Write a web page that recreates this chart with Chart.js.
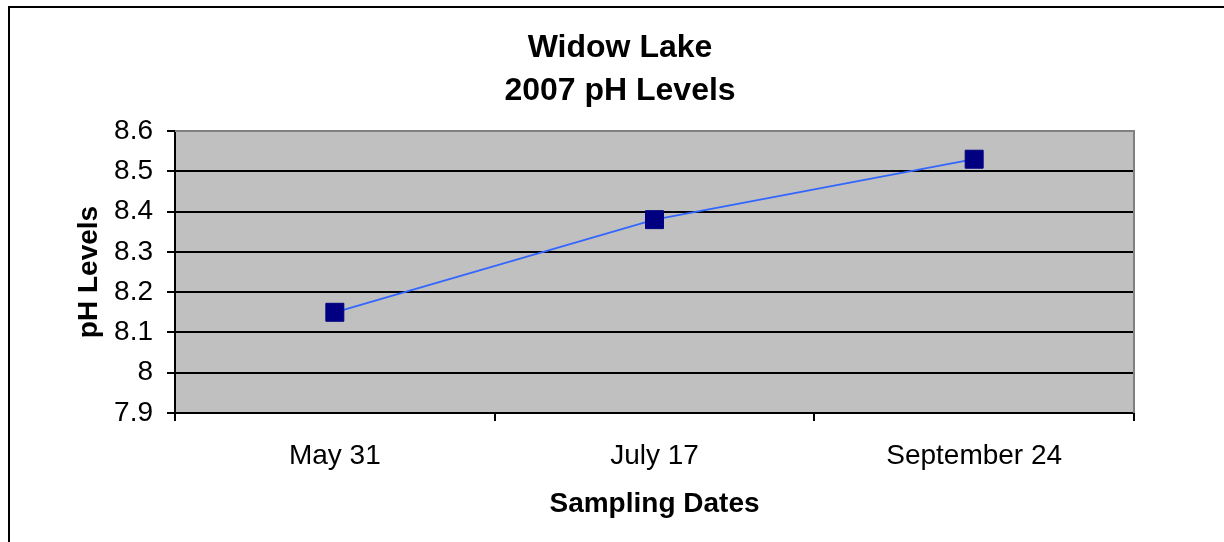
<!DOCTYPE html>
<html>
<head>
<meta charset="utf-8">
<script src="https://cdn.jsdelivr.net/npm/chart.js@4.4.1/dist/chart.umd.min.js"></script>
<style>
  html, body { margin: 0; padding: 0; background: #fff; }
  #wrap { width: 1224px; height: 542px; position: relative; }
</style>
</head>
<body>
<div id="wrap"><canvas id="ph-chart"></canvas></div>
<script>
const sampleDates = ['May 31', 'July 17', 'September 24'];
const phValues = [8.15, 8.38, 8.53];
const yMin = 7.9;
const yMax = 8.6;
const yStep = 0.1;

const FONT = "'Liberation Sans', Arial, sans-serif";

// grey plot area, grey top/right edge and the outer frame of the Excel chart
const plotBackground = {
    id: 'plotBackground',
    beforeDraw(chart) {
        const { ctx, chartArea: a } = chart;
        ctx.save();
        ctx.fillStyle = '#C0C0C0';
        ctx.fillRect(a.left, a.top, a.right - a.left, a.bottom - a.top);
        ctx.restore();
    },
    afterDatasetsDraw(chart) {
        const { ctx, chartArea: a } = chart;
        ctx.save();
        ctx.strokeStyle = '#808080';
        ctx.lineWidth = 2;
        ctx.beginPath();
        ctx.moveTo(a.left, a.top);
        ctx.lineTo(a.right, a.top);
        ctx.lineTo(a.right, a.bottom);
        ctx.stroke();
        ctx.restore();
    },
    afterDraw(chart) {
        const { ctx } = chart;
        ctx.save();
        ctx.strokeStyle = '#000';
        ctx.lineWidth = 2;
        ctx.beginPath();
        ctx.moveTo(9, chart.height);
        ctx.lineTo(9, 7);
        ctx.lineTo(chart.width, 7);
        ctx.stroke();
        ctx.restore();
    }
};

const ctx = document.getElementById('ph-chart').getContext('2d');
const myChart = new Chart(ctx, {
    type: 'line',
    data: {
        labels: sampleDates,
        datasets: [{
            label: 'pH',
            data: phValues,
            borderColor: '#3366FF',
            borderWidth: 1.8,
            tension: 0,
            fill: false,
            pointStyle: 'rect',
            pointRadius: 12.7,
            pointBorderWidth: 1,
            pointBackgroundColor: '#000080',
            pointBorderColor: '#000080'
        }]
    },
    options: {
        animation: false,
        responsive: true,
        maintainAspectRatio: false,
        layout: { padding: { left: 16, right: 0, top: 0, bottom: 0 } },
        plugins: {
            legend: { display: false },
            tooltip: { enabled: false },
            title: {
                display: true,
                text: ['Widow Lake', '2007 pH Levels'],
                color: '#000',
                font: { family: FONT, size: 32, weight: 'bold', lineHeight: 1.344 },
                padding: { top: 27, bottom: 18 }
            }
        },
        scales: {
            x: {
                type: 'category',
                offset: true,
                grid: {
                    offset: true,
                    drawOnChartArea: false,
                    color: '#000',
                    lineWidth: 2,
                    tickLength: 8
                },
                border: { display: true, color: '#000', width: 2 },
                ticks: {
                    color: '#000',
                    font: { family: FONT, size: 28 },
                    padding: 18,
                    maxRotation: 0
                },
                title: {
                    display: true,
                    text: 'Sampling Dates',
                    color: '#000',
                    font: { family: FONT, size: 28, weight: 'bold' },
                    padding: { top: 0, bottom: 21 }
                },
                afterFit(scale) { scale.height = 129; }
            },
            y: {
                min: yMin,
                max: yMax,
                grid: {
                    color: c => (c.tick && c.tick.value >= yMax - 1e-9) ? '#808080' : '#000',
                    lineWidth: 2,
                    tickLength: 8,
                    tickColor: '#000'
                },
                border: { display: true, color: '#000', width: 2 },
                ticks: {
                    stepSize: yStep,
                    color: '#000',
                    font: { family: FONT, size: 28 },
                    padding: 14,
                    callback: v => String(parseFloat(Number(v).toFixed(1)))
                },
                title: {
                    display: true,
                    text: 'pH Levels',
                    color: '#000',
                    font: { family: FONT, size: 28, weight: 'bold' },
                    padding: { top: 56, bottom: 0 }
                },
                afterFit(scale) { scale.width = 159; }
            },
            yRight: {
                position: 'right',
                display: true,
                grid: { display: false, drawTicks: false },
                border: { display: false },
                ticks: { display: false },
                afterFit(scale) { scale.width = 90; }
            }
        }
    },
    plugins: [plotBackground]
});
</script>
</body>
</html>
